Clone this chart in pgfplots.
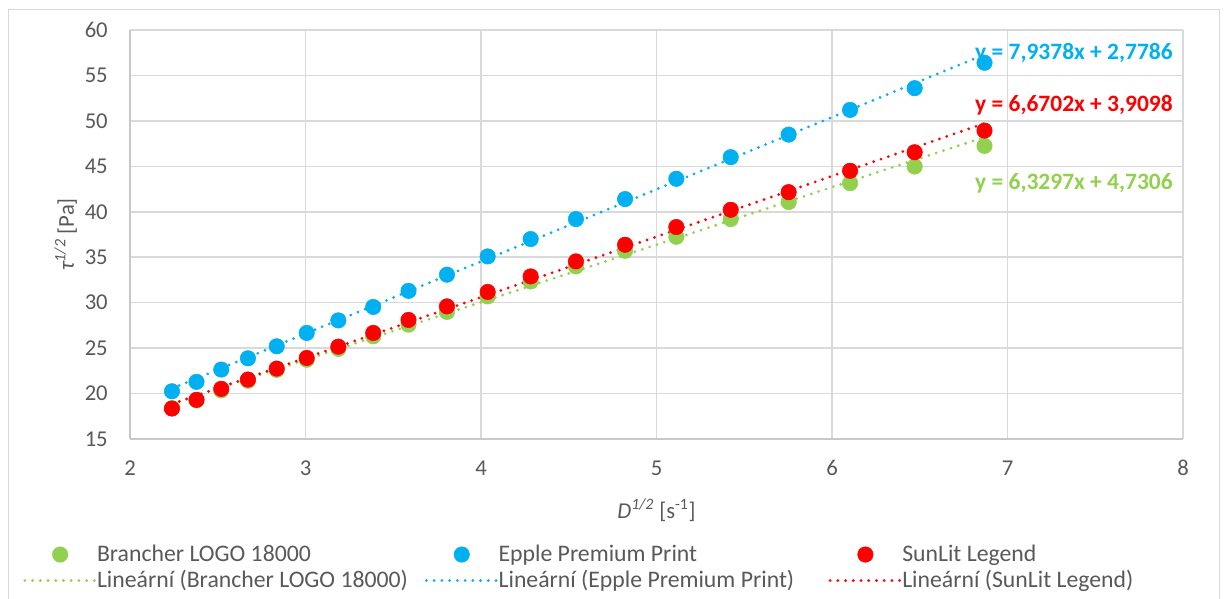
\documentclass[border=0pt]{standalone}
\usepackage{pgfplots}
\pgfplotsset{compat=1.18}
\usepackage{fontspec}
\setmainfont{Carlito}
\definecolor{cgreen}{HTML}{92D050}
\definecolor{cblue}{HTML}{00B0F0}
\definecolor{cred}{HTML}{FF0000}
\definecolor{cgrid}{HTML}{D9D9D9}
\definecolor{caxis}{HTML}{C8C8C8}
\definecolor{ctext}{HTML}{595959}
\pgfplotstableread{
x      g      b      r
2.239  18.40  20.25  18.35
2.379  19.25  21.29  19.31
2.520  20.35  22.64  20.52
2.672  21.40  23.88  21.54
2.836  22.60  25.20  22.75
3.007  23.72  26.67  23.92
3.187  24.92  28.05  25.16
3.386  26.30  29.53  26.67
3.587  27.58  31.30  28.10
3.806  28.98  33.08  29.59
4.038  30.69  35.09  31.18
4.283  32.34  37.00  32.89
4.541  33.99  39.20  34.54
4.821  35.71  41.40  36.37
5.113  37.25  43.63  38.32
5.423  39.20  46.01  40.22
5.753  41.07  48.49  42.16
6.103  43.15  51.21  44.51
6.471  44.98  53.60  46.55
6.869  47.25  56.40  48.93
}\datatab
\pgfplotstableread{
x      g       b       r
2.239  18.903  20.551  18.844
6.869  48.209  57.302  49.727
}\trendtab
\begin{document}
\begin{tikzpicture}
\useasboundingbox (0,0) rectangle (918pt,449.25pt);
\fill[white] (0,0) rectangle (918pt,449.25pt);
\draw[cgrid, line width=0.75pt] (6pt,-5pt) rectangle (914.25pt,441.75pt);
\begin{axis}[
  at={(97.5pt,120pt)}, anchor=south west,
  scale only axis, width=789.75pt, height=306.75pt,
  xmin=2, xmax=8, ymin=15, ymax=60,
  xtick={2,3,4,5,6,7,8}, ytick={15,20,25,30,35,40,45,50,55,60},
  grid=major, major grid style={cgrid, line width=1.1pt},
  axis lines=left, axis line style={-, draw=caxis, line width=1.1pt},
  major tick length=0pt,
  clip=false,
  /pgf/number format/assume math mode=true,
  ticklabel style={font=\fontsize{17}{20}\selectfont, text=ctext, inner sep=0pt},
  xticklabel style={anchor=center, yshift=-22pt},
  yticklabel style={anchor=east, xshift=-16.5pt},
  xlabel={{\itshape D\textsuperscript{1/2}} [s\textsuperscript{-1}]},
  ylabel={{\itshape τ\textsuperscript{1/2}} [Pa]},
  label style={font=\fontsize{17}{20}\selectfont, text=ctext},
  xlabel style={at={(axis description cs:0.5,-0.174)}, anchor=center},
  ylabel style={at={(axis description cs:-0.061,0.5)}, anchor=center},
  legend columns=3,
  legend style={at={(-0.1054,-0.252)}, anchor=north west, draw=none, fill=none,
    font=\fontsize{17.8}{20}\selectfont, text=ctext,
    nodes={inner sep=0pt, text height=12.75pt, text depth=4.25pt, anchor=base west},
    row sep=2.5pt,
    /tikz/column 1/.style={column sep=0pt},
    /tikz/column 3/.style={column sep=0pt},
    /tikz/column 5/.style={column sep=0pt},
    /tikz/column 2/.style={column sep=12.75pt},
    /tikz/column 4/.style={column sep=25.75pt}},
  legend cell align=left,
  legend image code/.code={
    \draw[#1, yshift=5.6pt] (0pt,0pt) -- (53pt,0pt);
  },
  marklegend/.style={legend image code/.code={
    \draw[##1, yshift=5.6pt] plot[only marks] coordinates {(26.5pt,0pt)};
    \path[draw=none, fill=none] (0pt,5.6pt) -- (53pt,5.6pt);
  }},
  dotline/.style={line width=2.3pt, line cap=round, dash pattern=on 0pt off 5.8pt},
]
\addplot[only marks, mark=*, mark size=5.8pt, color=cgreen, marklegend] table[x=x,y=g]{\datatab};
\addlegendentry{Brancher LOGO 18000}
\addplot[only marks, mark=*, mark size=5.8pt, color=cblue, marklegend] table[x=x,y=b]{\datatab};
\addlegendentry{Epple Premium Print}
\addplot[only marks, mark=*, mark size=5.8pt, color=cred, marklegend] table[x=x,y=r]{\datatab};
\addlegendentry{SunLit Legend}
\addplot[cgreen, dotline, no marks] table[x=x,y=g]{\trendtab};
\addlegendentry{Lineární (Brancher LOGO 18000)}
\addplot[cblue, dotline, no marks] table[x=x,y=b]{\trendtab};
\addlegendentry{Lineární (Epple Premium Print)}
\addplot[cred, dotline, no marks] table[x=x,y=r]{\trendtab};
\addlegendentry{Lineární (SunLit Legend)}
\node[anchor=east, inner sep=0pt, text=cblue, font=\bfseries\fontsize{17.6}{20}\selectfont] at (rel axis cs:0.9905,0.944) {y = 7,9378x + 2,7786};
\node[anchor=east, inner sep=0pt, text=cred, font=\bfseries\fontsize{17.6}{20}\selectfont] at (rel axis cs:0.9905,0.817) {y = 6,6702x + 3,9098};
\node[anchor=east, inner sep=0pt, text=cgreen, font=\bfseries\fontsize{17.6}{20}\selectfont] at (rel axis cs:0.9905,0.626) {y = 6,3297x + 4,7306};
\end{axis}
\end{tikzpicture}
\end{document}
